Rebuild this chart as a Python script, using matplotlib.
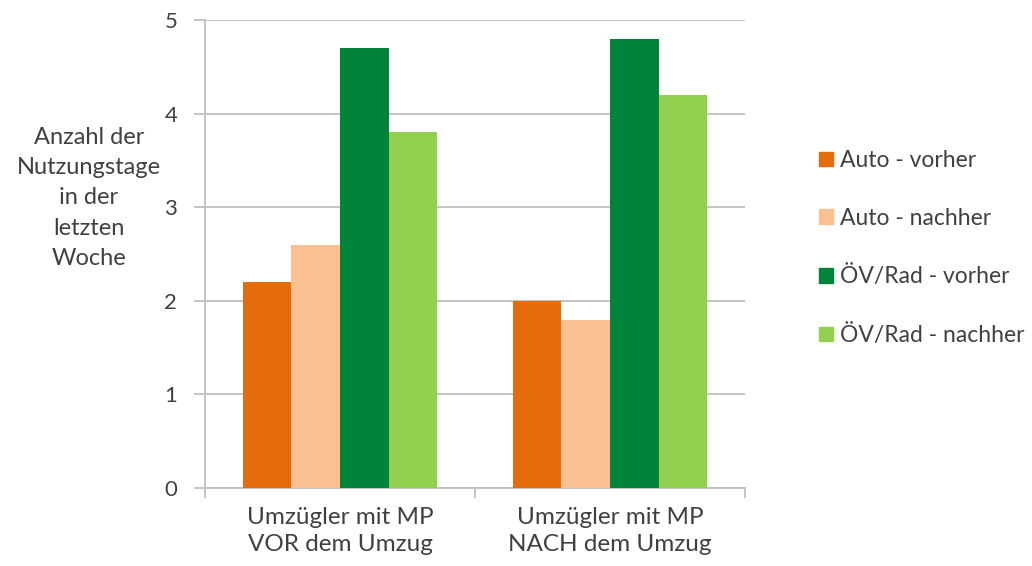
import numpy as np
import matplotlib.pyplot as plt
from matplotlib.patches import Patch

plt.rcParams['font.family'] = ['Lato', 'DejaVu Sans']

groups = ['Umzügler mit MP\nVOR dem Umzug', 'Umzügler mit MP\nNACH dem Umzug']
series = ['Auto - vorher', 'Auto - nachher', 'ÖV/Rad - vorher', 'ÖV/Rad - nachher']
values = [
    [2.2, 2.0],   # Auto - vorher
    [2.6, 1.8],   # Auto - nachher
    [4.7, 4.8],   # ÖV/Rad - vorher
    [3.8, 4.2],   # ÖV/Rad - nachher
]
colors = ['#E46C0A', '#FAC090', '#00843A', '#92D050']
yticks = [0, 1, 2, 3, 4, 5]

txt = '#404040'
grid_c = '#BFBFBF'

fig = plt.figure(figsize=(10.32, 5.66), dpi=100)
ax = fig.add_axes([205/1032, 1-488/566, 540/1032, 468/566])

x = np.arange(len(groups))
w = 0.18
for i, s in enumerate(series):
    ax.bar(x + (i - 1.5) * w, values[i], w, color=colors[i], label=s, zorder=3)

ax.set_xlim(-0.5, 1.5)
ax.set_ylim(0, 5)
ax.set_yticks(yticks)
ax.set_yticklabels([str(t) for t in yticks], fontsize=16, color=txt)
ax.yaxis.grid(True, color=grid_c, linewidth=1.3, zorder=0)
ax.tick_params(axis='y', length=8, color=grid_c, width=1.3, pad=12)

ax.set_xticks([-0.5, 0.5, 1.5])
ax.set_xticklabels(['', '', ''])
ax.set_xticks(x, minor=True)
ax.set_xticklabels(groups, minor=True, fontsize=17.5, color=txt, linespacing=1.3)
ax.tick_params(axis='x', which='major', length=7, color=grid_c, width=1.3)
ax.tick_params(axis='x', which='minor', length=0, pad=14)

for side in ['top', 'right']:
    ax.spines[side].set_visible(False)
for side in ['left', 'bottom']:
    ax.spines[side].set_color(grid_c)
    ax.spines[side].set_linewidth(1.3)

ax.set_ylabel('Anzahl der\nNutzungstage\nin der\nletzten\nWoche', rotation=0,
              fontsize=17, color=txt, linespacing=1.55, ha='center', va='center')
ax.yaxis.set_label_coords(-0.215, 0.62)

handles = [Patch(color=c) for c in colors]
leg = fig.legend(handles, series, loc='upper left', bbox_to_anchor=(819/1032, 1-150/566),
                 frameon=False, fontsize=16.5, labelspacing=1.6, handlelength=0.6,
                 handleheight=0.6, handletextpad=0.3, borderaxespad=0, borderpad=0)
for t in leg.get_texts():
    t.set_color(txt)

fig.savefig('out.png', dpi=100)
